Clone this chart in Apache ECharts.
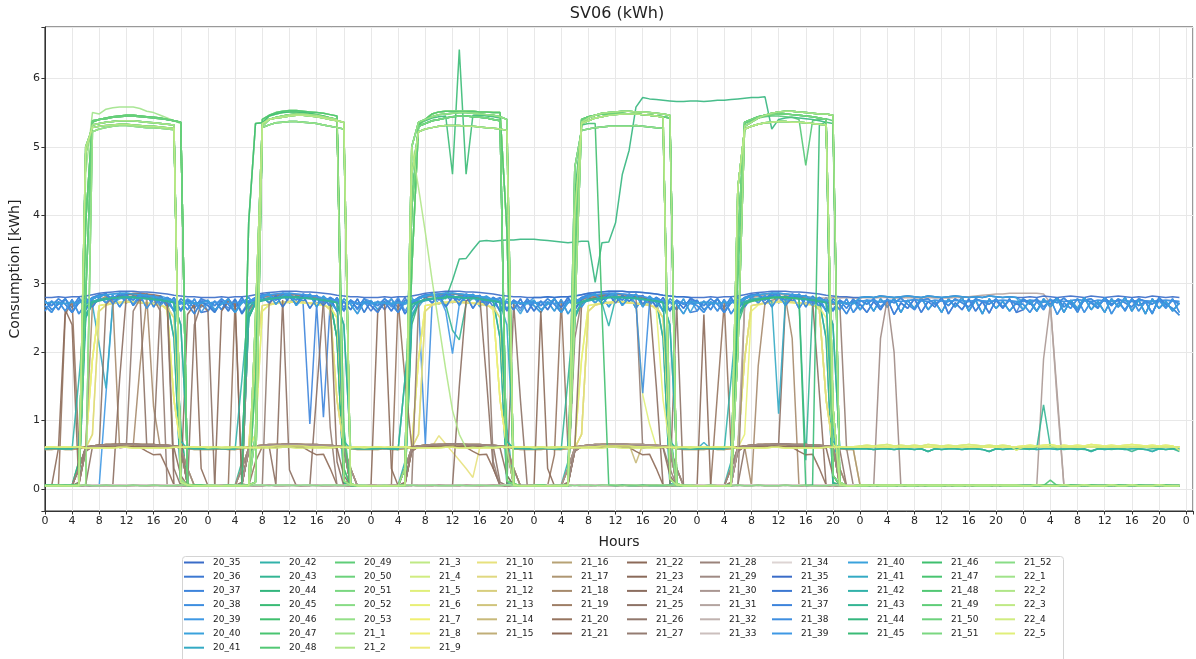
<!DOCTYPE html>
<html>
<head>
<meta charset="utf-8">
<script src="https://cdn.jsdelivr.net/npm/echarts@6/dist/echarts.min.js"></script>
<style>
  html, body { margin: 0; padding: 0; background: #ffffff; }
  #chart { width: 1196px; height: 659px; }
</style>
</head>
<body>
<div id="chart"></div>
<script>
// Hourly consumption profiles (kWh), one 24-value array per day shape.
// ---- always-on (blue) ----
const BA = [2.80,2.80,2.81,2.80,2.81,2.81, 2.82,2.84,2.86,2.87,2.88,2.89, 2.89,2.89,2.88,2.88,2.87,2.86, 2.85,2.83,2.82,2.81,2.81,2.80];
const BB = [2.68,2.58,2.74,2.60,2.77,2.56, 2.71,2.79,2.81,2.72,2.83,2.66, 2.81,2.70,2.83,2.64,2.79,2.68, 2.80,2.59,2.74,2.62,2.78,2.58];
const BC = [2.60,2.75,2.62,2.78,2.65,2.80, 2.62,2.77,2.83,2.85,2.76,2.84, 2.72,2.83,2.74,2.85,2.70,2.81, 2.66,2.80,2.60,2.76,2.64,2.78];
const BD = [2.74,2.68,2.78,2.70,2.58,2.76, 2.72,2.80,2.84,2.83,2.78,2.86, 2.82,2.76,2.85,2.80,2.83,2.72, 2.80,2.74,2.62,2.76,2.70,2.74];
const BE = [2.72,2.73,2.72,2.71,2.73,2.72, 2.75,2.78,2.82,2.84,2.85,2.86, 2.86,2.85,2.84,2.83,2.81,2.79, 2.77,2.75,2.73,2.72,2.72,2.71];
const BF = [2.76,2.62,2.70,2.78,2.58,2.72, 2.80,2.66,2.80,2.86,2.70,2.82, 2.86,2.68,2.80,2.84,2.66,2.82, 2.72,2.62,2.78,2.70,2.56,2.74];
const BW1 = [2.80,2.81,2.80,2.82,2.81,2.80, 2.81,2.82,2.81,2.80,2.82,2.81, 2.80,2.81,2.82,2.81,2.80,2.81, 2.80,2.82,2.81,2.80,2.81,2.80];
const BW2 = [2.70,2.58,2.74,2.62,2.78,2.55, 2.72,2.64,2.78,2.58,2.74,2.66, 2.80,2.56,2.72,2.62,2.78,2.60, 2.74,2.57,2.76,2.64,2.78,2.58];
const BW3 = [2.62,2.76,2.60,2.78,2.66,2.79, 2.58,2.76,2.64,2.80,2.62,2.74, 2.58,2.78,2.66,2.80,2.60,2.76, 2.56,2.78,2.64,2.74,2.60,2.72];
const BW4 = [2.76,2.70,2.78,2.66,2.76,2.72, 2.79,2.70,2.62,2.76,2.78,2.70, 2.76,2.68,2.78,2.72,2.66,2.78, 2.74,2.70,2.78,2.66,2.76,2.70];
const BW5 = [2.74,2.76,2.75,2.73,2.76,2.75, 2.74,2.75,2.77,2.75,2.74,2.76, 2.75,2.74,2.76,2.75,2.74,2.76, 2.75,2.74,2.75,2.76,2.75,2.74];
const BW6 = [2.78,2.72,2.60,2.76,2.70,2.80, 2.66,2.74,2.58,2.78,2.72,2.64, 2.80,2.70,2.76,2.60,2.78,2.68, 2.74,2.56,2.80,2.70,2.64,2.54];
const BLate = [0.05,0.05,0.05,0.05,0.05,0.05, 0.05,0.05,0.06,1.40,2.72,2.82, 2.86,2.85,2.84,2.82,2.80,2.82, 2.79,2.76,2.70,2.78,2.72,2.66];
const BTueDips = [2.72,2.60,2.76,2.64,2.78,2.58, 2.74,2.80,2.82,2.80,2.84,2.82, 2.84,2.80,2.72,0.95,2.70,1.05, 2.72,2.78,2.66,2.76,2.62,2.74];
const BWedDip8 = [2.74,2.62,2.78,2.66,2.80,2.60, 2.76,2.70,0.66,2.72,2.82,2.84, 2.80,2.82,2.84,2.80,2.78,2.82, 2.76,2.80,2.64,2.76,2.60,2.78];
const BWedDip12 = [2.70,2.72,2.71,2.69,2.72,2.70, 2.74,2.78,2.82,2.84,2.82,2.60, 1.98,2.70,2.84,2.83,2.81,2.79, 2.77,2.75,2.73,2.72,2.72,2.71];
const BThuDip16 = [2.74,2.68,2.78,2.70,2.58,2.76, 2.72,2.80,2.84,2.83,2.78,2.86, 2.82,2.76,2.85,2.70,1.40,2.72, 2.80,2.74,2.62,2.76,2.70,2.74];

// ---- daytime 2.7 load (teal) ----
const T1 = [0.05,0.05,0.05,0.05,0.05,0.06, 2.50,2.72,2.76,2.78,2.80,2.80, 2.81,2.81,2.80,2.79,2.78,2.77, 2.75,2.20,0.08,0.06,0.05,0.05];
const T1b = [0.06,0.05,0.06,0.05,0.06,0.40, 2.66,2.74,2.77,2.79,2.80,2.81, 2.81,2.80,2.80,2.79,2.78,2.77, 2.76,2.74,0.90,0.06,0.06,0.05];
const T1MonDip = [0.05,0.05,0.05,0.05,0.05,0.06, 2.50,2.70,2.10,1.47,2.72,2.78, 2.80,2.80,2.79,2.78,2.77,2.76, 2.74,2.20,0.08,0.06,0.05,0.05];
const T1WedDip = [0.05,0.05,0.05,0.05,0.05,0.06, 2.50,2.72,2.76,2.78,2.80,2.70, 2.32,2.18,2.70,2.79,2.78,2.77, 2.75,2.20,0.08,0.06,0.05,0.05];
const T1ThuDip = [0.06,0.05,0.06,0.05,0.06,0.40, 2.66,2.74,2.77,2.79,2.72,2.38, 2.78,2.80,2.80,2.79,2.78,2.77, 2.76,2.74,0.90,0.06,0.06,0.05];
const T1FriDip = [0.05,0.05,0.05,0.05,0.05,0.06, 2.50,2.72,2.76,2.78,2.80,2.80, 2.81,2.81,2.80,2.78,0.42,2.70, 2.75,2.20,0.08,0.06,0.05,0.05];
const T2 = [0.59,0.60,0.59,0.59,0.60,0.61, 2.55,2.72,2.75,2.77,2.79,2.80, 2.80,2.80,2.79,2.78,2.77,2.76, 2.74,2.72,2.40,0.60,0.59,0.59];
const T2b = [0.59,0.59,0.60,0.59,0.58,1.60, 2.70,2.74,2.77,2.78,2.79,2.80, 2.81,2.80,2.79,2.79,2.78,2.76, 2.75,2.73,0.70,0.59,0.60,0.59];
const T2FriDip = [0.59,0.68,0.59,0.59,0.60,0.61, 2.55,2.72,2.75,2.77,2.79,2.74, 1.10,2.76,2.79,2.78,2.77,2.76, 2.74,2.72,2.40,0.60,0.59,0.59];
const TW0 = [0.59,0.59,0.58,0.59,0.59,0.58, 0.59,0.59,0.58,0.59,0.55,0.59, 0.58,0.59,0.59,0.58,0.59,0.59, 0.58,0.55,0.59,0.58,0.59,0.59];
const TWSun = [0.59,0.58,0.60,1.23,0.62,0.59, 0.58,0.59,0.59,0.58,0.56,0.59, 0.59,0.58,0.59,0.59,0.55,0.59, 0.58,0.59,0.59,0.58,0.59,0.55];

// ---- standby baseline ----
const Z0 = [0.05,0.05,0.06,0.05,0.05,0.05, 0.06,0.05,0.05,0.06,0.05,0.05, 0.05,0.06,0.05,0.05,0.06,0.05, 0.05,0.05,0.06,0.05,0.05,0.05];
const Z1 = [0.06,0.06,0.05,0.06,0.06,0.06, 0.05,0.06,0.06,0.05,0.06,0.06, 0.06,0.05,0.06,0.06,0.05,0.06, 0.06,0.06,0.05,0.06,0.06,0.06];
const ZSun = [0.05,0.05,0.05,0.05,0.13,0.05, 0.05,0.06,0.05,0.05,0.06,0.05, 0.05,0.05,0.06,0.05,0.05,0.06, 0.05,0.05,0.05,0.06,0.05,0.05];

// ---- full daytime load (green), Monday..Friday ----
const GM1 = [0.05,0.05,0.05,0.05,0.05,0.06, 4.90,5.32,5.34,5.36,5.37,5.38, 5.38,5.38,5.37,5.36,5.35,5.34, 5.33,5.32,0.10,0.06,0.05,0.05];
const GM2 = [0.06,0.06,0.06,0.05,0.06,0.07, 3.90,5.36,5.40,5.42,5.44,5.45, 5.46,5.46,5.45,5.44,5.43,5.42, 5.40,5.38,5.36,0.06,0.06,0.06];
const GM3 = [0.05,0.05,0.05,0.05,0.05,0.05, 5.00,5.28,5.30,5.31,5.32,5.33, 5.33,5.32,5.31,5.30,5.30,5.29, 5.28,5.27,0.10,0.06,0.05,0.05];
const GM4 = [0.05,0.05,0.05,0.05,0.05,0.06, 4.60,5.50,5.48,5.55,5.57,5.58, 5.58,5.58,5.56,5.52,5.50,5.46, 5.42,5.38,5.34,0.08,0.05,0.05];
const GM5 = [0.05,0.05,0.05,0.05,0.05,0.05, 0.06,5.22,5.26,5.28,5.30,5.31, 5.31,5.30,5.29,5.28,5.28,5.27, 5.26,5.25,0.15,0.06,0.05,0.05];
const GM6 = [0.05,0.05,0.05,0.06,0.05,0.05, 2.80,5.38,5.40,5.41,5.43,5.44, 5.45,5.45,5.44,5.43,5.42,5.41, 5.40,5.38,5.36,0.05,0.05,0.05];
const GT1 = [0.05,0.05,0.05,0.05,0.05,0.05, 0.06,0.10,5.30,5.40,5.43,5.45, 5.47,5.48,5.48,5.47,5.46,5.44, 5.42,5.40,0.12,0.06,0.05,0.05];
const GT2 = [0.05,0.05,0.05,0.05,0.05,0.05, 0.05,2.50,5.34,5.40,5.42,5.43, 5.45,5.46,5.46,5.45,5.44,5.42, 5.40,5.38,5.36,0.08,0.05,0.05];
const GT3 = [0.05,0.05,0.05,0.05,0.05,0.06, 3.90,5.34,5.35,5.45,5.48,5.50, 5.51,5.51,5.50,5.49,5.47,5.45, 5.42,5.40,0.30,0.05,0.05,0.05];
const GT4 = [0.05,0.05,0.05,0.05,0.05,0.05, 0.05,0.80,5.28,5.32,5.35,5.36, 5.37,5.37,5.36,5.35,5.34,5.32, 5.30,5.28,5.26,0.06,0.05,0.05];
const GT5 = [0.05,0.05,0.05,0.06,0.05,0.05, 0.06,1.60,5.40,5.46,5.50,5.52, 5.53,5.53,5.52,5.51,5.50,5.49, 5.47,5.45,0.80,0.05,0.05,0.05];
const GW1 = [0.05,0.05,0.05,0.05,0.05,0.06, 4.10,5.30,5.34,5.38,5.40,5.42, 5.44,5.45,5.45,5.44,5.43,5.42, 5.40,5.38,0.12,0.07,0.05,0.05];
const GW2 = [0.05,0.05,0.05,0.05,0.05,0.30, 5.00,5.36,5.40,5.44,5.47,5.48, 5.49,5.50,5.50,5.49,5.48,5.47, 5.46,5.44,5.40,0.05,0.05,0.05];
const GW3 = [0.05,0.05,0.05,0.05,0.05,0.05, 3.20,5.32,5.40,5.48,5.51,5.52, 5.52,5.52,5.52,5.52,5.51,5.51, 5.50,5.50,3.80,0.08,0.05,0.05];
const GW4 = [0.05,0.05,0.05,0.05,0.05,0.05, 4.60,5.22,5.26,5.28,5.30,5.31, 5.31,5.31,5.30,5.30,5.29,5.28, 5.27,5.26,5.24,0.06,0.05,0.05];
const GWSpike = [0.05,0.05,0.05,0.05,0.05,0.05, 4.20,5.34,5.38,5.42,5.44,5.45, 4.60,6.42,4.60,5.46,5.46,5.45, 5.44,5.42,0.20,0.06,0.05,0.05];
const GWDecline = [0.05,0.05,0.05,0.05,0.05,0.06, 5.00,4.40,3.75,3.05,2.40,1.75, 1.15,0.80,0.60,0.61,0.60,0.62, 0.61,0.62,0.60,0.06,0.05,0.05];
const GH1 = [0.05,0.05,0.05,0.05,0.05,0.06, 4.00,5.34,5.38,5.42,5.44,5.46, 5.47,5.48,5.48,5.48,5.47,5.46, 5.45,5.43,0.15,0.06,0.05,0.05];
const GH2 = [0.05,0.05,0.05,0.05,0.05,0.05, 2.50,5.36,5.42,5.46,5.49,5.50, 5.51,5.52,5.52,5.51,5.51,5.50, 5.49,5.48,5.46,0.08,0.05,0.05];
const GH3 = [0.05,0.05,0.05,0.05,0.05,0.05, 4.70,5.24,5.26,5.28,5.29,5.30, 5.30,5.30,5.30,5.31,5.30,5.29, 5.28,5.27,0.80,0.06,0.05,0.05];
const GHDrop = [0.05,0.05,0.05,0.05,0.05,0.06, 4.30,5.32,5.34,5.34,2.60,0.06, 0.05,0.06,0.05,0.05,0.06,0.05, 0.05,0.05,0.06,0.05,0.05,0.05];
const GH4 = [0.05,0.06,0.05,0.05,0.05,0.05, 3.40,5.40,5.44,5.46,5.48,5.48, 5.49,5.49,5.48,5.48,5.47,5.46, 5.45,5.44,5.42,0.06,0.05,0.05];
const GF1 = [0.05,0.05,0.05,0.05,0.05,0.05, 3.60,5.36,5.40,5.44,5.46,5.47, 5.48,5.48,5.47,5.46,5.45,5.44, 5.42,5.40,0.20,0.07,0.05,0.05];
const GF2 = [0.05,0.05,0.05,0.05,0.05,0.06, 2.00,5.30,5.36,5.42,5.46,5.49, 5.51,5.52,5.52,5.51,5.50,5.49, 5.48,5.48,5.46,0.10,0.05,0.05];
const GF3 = [0.05,0.05,0.05,0.05,0.05,0.05, 4.40,5.26,5.30,5.33,5.35,5.36, 5.37,5.37,5.36,5.36,5.35,5.34, 5.33,5.32,1.20,0.06,0.05,0.05];
const GFDip = [0.05,0.05,0.05,0.05,0.05,0.05, 3.00,5.34,5.38,5.42,5.44,5.45, 5.45,5.44,5.43,5.40,4.73,5.38, 5.40,5.41,5.38,0.06,0.05,0.05];
const GFLate = [0.05,0.05,0.05,0.05,0.05,0.06, 2.40,2.70,2.74,2.76,2.78,2.79, 2.80,2.80,2.79,2.78,0.05,0.06, 5.32,5.36,5.34,0.06,0.05,0.05];
// unit left running from Wednesday noon to Friday
const SWed = [0.05,0.05,0.05,0.05,0.05,0.06, 2.40,2.72,2.76,2.78,2.80,2.78, 3.05,3.36,3.37,3.50,3.62,3.63, 3.62,3.63,3.64,3.64,3.65,3.65];
const SThu = [3.65,3.64,3.63,3.62,3.61,3.60, 3.61,3.62,3.62,3.02,3.60,3.61, 3.89,4.60,4.95,5.58,5.72,5.70, 5.69,5.68,5.67,5.66,5.66,5.67];
const SFri = [5.67,5.66,5.67,5.68,5.68,5.69, 5.70,5.71,5.72,5.72,5.73,5.26, 5.40,5.42,5.43,5.42,5.41,5.40, 5.38,5.36,0.10,0.06,0.05,0.05];

// ---- night 0.6 load (yellow) ----
const Y1 = [0.60,0.61,0.60,0.60,0.61,0.60, 0.62,1.90,2.68,2.70,2.72,2.73, 2.74,2.74,2.73,2.72,2.71,2.70, 2.62,1.30,0.62,0.61,0.60,0.60];
const Y1b = [0.61,0.60,0.60,0.61,0.60,0.61, 0.60,0.80,2.60,2.69,2.71,2.72, 2.73,2.73,2.72,2.71,2.70,2.68, 2.66,2.50,0.64,0.60,0.61,0.60];
const Y1Thu = [0.60,0.61,0.60,0.60,0.61,0.60, 0.62,1.90,2.68,2.70,2.72,2.73, 2.74,2.74,2.73,2.72,1.38,0.95, 0.62,0.61,0.60,0.61,0.60,0.60];
const Y0 = [0.60,0.61,0.60,0.60,0.61,0.60, 0.61,0.61,0.62,0.62,0.63,0.63, 0.63,0.63,0.63,0.62,0.62,0.62, 0.61,0.61,0.61,0.60,0.61,0.60];
const Y0b = [0.61,0.62,0.61,0.62,0.61,0.62, 0.60,0.60,0.60,0.60,0.60,0.61, 0.61,0.60,0.60,0.60,0.60,0.60, 0.60,0.61,0.61,0.62,0.61,0.62];
const Y0Wed = [0.60,0.61,0.60,0.60,0.61,0.60, 0.61,0.61,0.62,0.62,0.78,0.66, 0.54,0.42,0.30,0.17,0.60,0.62, 0.61,0.61,0.61,0.60,0.61,0.60];
const YW = [0.61,0.62,0.62,0.61,0.62,0.61, 0.62,0.61,0.62,0.62,0.61,0.62, 0.61,0.62,0.61,0.62,0.61,0.62, 0.61,0.62,0.61,0.62,0.61,0.62];
const YW2 = [0.63,0.64,0.63,0.64,0.65,0.63, 0.64,0.63,0.64,0.63,0.65,0.64, 0.63,0.64,0.63,0.64,0.65,0.64, 0.63,0.64,0.63,0.64,0.63,0.57];

// ---- daytime 0.65 load (khaki / brown) ----
const K0 = [0.58,0.58,0.59,0.58,0.58,0.59, 0.62,0.63,0.64,0.64,0.65,0.65, 0.65,0.65,0.65,0.64,0.64,0.64, 0.63,0.63,0.62,0.59,0.58,0.58];
const K1 = [0.05,0.05,0.05,0.05,0.05,0.30, 0.60,0.63,0.64,0.65,0.65,0.65, 0.66,0.66,0.65,0.65,0.65,0.64, 0.64,0.63,0.62,0.06,0.05,0.05];
const K1b = [0.06,0.05,0.05,0.06,0.05,0.08, 0.56,0.62,0.63,0.64,0.64,0.65, 0.65,0.65,0.64,0.64,0.64,0.63, 0.63,0.62,0.60,0.30,0.05,0.05];
const K1Thu = [0.05,0.05,0.05,0.05,0.05,0.30, 0.60,0.63,0.64,0.65,0.65,0.65, 0.66,0.66,0.65,0.38,0.65,0.64, 0.64,0.63,0.62,0.06,0.05,0.05];
const KD = [0.05,0.05,0.05,0.05,0.05,0.07, 0.55,0.62,0.62,0.62,0.61,0.61, 0.61,0.61,0.61,0.55,0.50,0.51, 0.30,0.06,0.05,0.05,0.05,0.05];
const KD2 = [0.05,0.05,0.05,0.05,0.05,0.10, 0.58,0.62,0.62,0.63,0.63,0.63, 0.62,0.62,0.62,0.62,0.62,0.61, 0.61,0.60,0.20,0.05,0.05,0.05];

// ---- intermittent 2.7 load (brown / grey) ----
const BrM1 = [0.05,0.05,0.06,2.55,2.74,0.62, 0.61,0.63,0.64,0.64,0.65,0.65, 0.65,0.65,0.64,0.64,0.64,0.63, 0.63,0.62,0.61,0.06,0.05,0.05];
const BrM2 = [0.05,0.05,0.60,2.62,2.40,0.05, 0.05,0.05,0.06,0.05,0.05,0.06, 0.05,0.05,0.06,0.05,0.05,0.06, 0.05,0.05,0.05,2.55,2.70,0.30];
const BrM3 = [0.05,0.05,0.05,0.05,0.05,0.06, 0.62,2.70,2.76,2.82,2.74,0.60, 0.62,0.63,1.80,2.80,1.20,0.60, 0.62,0.63,0.61,0.06,0.05,0.05];
const BrM4 = [0.05,0.05,0.05,0.05,0.05,0.05, 0.05,0.05,0.05,0.05,0.06,1.60, 2.84,2.86,2.86,2.85,2.84,2.82, 2.70,0.06,0.05,0.05,0.05,0.05];
const BrM5 = [0.05,0.05,0.05,0.05,0.05,0.05, 0.06,0.62,0.63,2.70,2.80,2.82, 2.84,2.84,2.82,0.62,0.63,2.72, 2.78,0.30,0.05,0.05,2.40,2.70];
const BrM6 = [0.05,0.05,0.05,0.05,0.05,0.30, 0.62,0.63,0.64,0.64,0.64,0.65, 0.65,2.60,2.78,2.80,2.78,2.60, 0.05,0.05,0.05,0.05,0.05,0.05];
const BrT1 = [0.05,0.05,2.60,2.74,2.70,0.05, 0.05,0.05,0.05,0.06,0.05,0.05, 0.06,0.05,0.05,0.06,0.05,0.05, 0.05,0.06,0.05,0.05,0.05,0.05];
const BrT2 = [0.05,0.05,0.05,0.05,2.75,0.08, 0.05,0.40,0.62,0.63,0.64,0.64, 0.65,0.65,0.64,0.64,0.63,0.63, 0.62,0.62,0.61,0.06,0.05,0.05];
const BrT3 = [0.05,0.05,0.05,0.05,0.05,0.06, 0.60,0.62,0.63,0.63,0.06,2.76, 0.28,0.05,0.05,0.05,1.40,2.76, 2.74,0.40,0.05,0.05,0.05,0.05];
const BrT4 = [2.60,0.05,0.05,0.05,0.05,0.06, 0.58,0.62,0.63,0.64,0.64,0.65, 0.65,0.65,0.64,0.64,0.64,0.63, 0.63,0.62,0.61,0.06,0.05,0.05];
const BrT5 = [0.05,0.05,0.05,0.05,0.05,0.06, 0.05,0.05,0.05,2.70,2.82,2.84, 2.84,2.84,2.82,2.80,2.80,2.74, 0.90,0.05,0.05,0.05,0.05,0.05];
const BrT6 = [0.05,0.05,0.05,0.05,0.05,0.05, 2.60,2.74,2.80,2.82,2.84,2.85, 2.85,2.84,2.83,2.82,2.80,2.78, 2.76,2.74,0.60,0.05,0.05,0.05];
const BrW1 = [0.05,2.60,2.72,0.30,0.05,0.05, 0.06,0.05,0.05,0.05,0.06,0.05, 0.05,0.05,0.06,0.05,0.05,0.05, 0.06,0.05,0.05,0.05,0.05,0.05];
const BrW2 = [0.05,0.05,0.05,0.05,2.75,1.60, 0.62,0.63,0.64,0.64,0.65,0.65, 0.65,0.65,0.64,0.64,0.64,0.63, 0.63,0.62,0.61,0.06,0.05,0.05];
const BrW3 = [0.05,0.05,0.05,0.05,0.05,0.05, 0.06,0.05,0.05,0.06,0.05,0.05, 0.05,1.50,2.75,2.80,2.82,1.60, 0.30,0.05,0.05,0.05,0.05,0.05];
const BrW4 = [0.05,0.05,0.05,0.05,0.05,0.06, 0.60,0.62,0.63,0.64,0.64,0.65, 0.65,0.65,0.64,0.64,0.64,0.63, 0.62,0.10,0.05,2.72,1.30,0.05];
const BrW5 = [0.05,0.05,0.05,0.05,0.05,0.05, 0.05,2.70,2.80,2.82,2.84,2.85, 2.85,2.84,2.83,2.82,2.80,2.78, 0.40,0.05,0.05,0.05,0.05,0.05];
const BrH1 = [0.05,2.60,0.30,0.05,0.05,0.05, 0.06,0.05,0.05,0.06,0.05,0.05, 0.05,0.06,0.05,0.05,0.05,0.06, 0.05,0.05,0.05,0.05,0.05,0.05];
const BrH2 = [0.05,0.05,0.05,0.50,2.75,0.60, 0.62,0.63,0.64,0.64,0.65,0.65, 0.65,0.65,0.64,0.64,0.64,0.63, 0.63,0.62,0.61,0.06,0.05,0.05];
const BrH3 = [0.05,0.05,0.05,0.05,0.05,0.06, 0.60,2.70,2.78,2.80,2.82,2.84, 2.84,2.84,2.83,2.82,2.80,2.76, 1.50,0.05,0.05,0.05,0.05,0.05];
const BrH4 = [0.05,0.05,0.05,0.05,0.05,0.05, 0.06,0.05,0.05,0.05,0.06,0.05, 0.05,0.05,0.06,0.05,0.05,0.05, 0.06,0.05,0.06,2.70,0.05,0.05];
const BrH5 = [0.05,0.05,0.05,0.05,0.05,0.06, 2.20,2.76,2.80,2.82,2.84,2.85, 2.85,2.84,2.83,2.82,0.60,0.62, 0.62,0.61,0.30,0.05,0.05,0.05];
const BrF1 = [0.05,2.55,0.05,0.05,0.05,0.05, 0.06,0.05,0.05,0.06,0.05,0.05, 0.05,0.06,0.05,0.05,0.05,0.06, 0.05,0.05,0.05,0.05,0.05,0.05];
const BrF2 = [0.05,0.05,0.05,1.40,2.72,0.60, 0.62,0.63,0.64,0.64,0.65,0.65, 0.65,0.65,0.64,0.64,0.64,0.63, 0.63,0.62,0.61,0.06,0.05,0.05];
const BrF3 = [0.05,0.05,0.05,0.05,0.05,0.06, 0.60,0.62,0.05,1.80,2.72,2.76, 2.78,2.80,2.20,0.05,0.05,0.05, 0.05,0.05,0.05,0.05,0.05,0.05];
const BrF4 = [0.05,0.05,0.05,0.05,0.05,0.06, 0.60,0.62,0.63,0.64,0.64,0.65, 0.65,2.70,2.78,2.80,2.80,2.76, 1.40,0.05,0.05,0.05,0.05,0.05];
const BrF5 = [0.05,0.05,0.05,0.05,0.05,0.06, 0.05,2.70,2.80,2.82,2.84,2.85, 2.85,2.84,2.83,2.82,2.80,2.78, 2.76,2.74,2.70,2.72,0.60,0.05];
const BrF6 = [0.05,0.05,0.05,0.05,0.05,0.05, 0.06,0.60,0.62,0.63,0.64,0.64, 0.65,0.65,0.64,0.64,0.64,0.63, 0.63,0.62,0.62,0.58,0.05,0.05];
const BrF7 = [0.05,0.05,0.05,0.05,0.05,0.05, 0.60,2.70,2.80,2.82,2.84,2.85, 2.85,2.84,2.83,2.82,2.81,2.80, 2.79,2.79,2.80,2.79,2.80,2.79];
const BrSat = [0.05,0.05,0.05,2.20,2.78,2.00, 0.05,0.05,0.06,0.05,0.05,0.05, 0.06,0.05,0.05,0.05,0.06,0.05, 0.05,0.05,0.05,0.06,0.05,0.05];
const BrG = [2.79,2.80,2.79,2.80,2.80,2.79, 2.79,2.80,2.79,2.79,2.80,2.79, 2.79,2.79,2.80,2.80,2.81,2.82, 2.83,2.84,2.85,2.85,2.86,2.86];
const BrSunA = [2.86,2.86,2.86,2.85,2.72,1.30, 0.05,0.05,0.05,0.06,0.05,0.05, 0.05,0.06,0.05,0.05,0.05,0.06, 0.05,0.05,0.05,0.05,0.06,0.05];
const BrSunB = [0.05,0.05,0.05,1.90,2.70,1.40, 0.05,0.05,0.06,0.05,0.05,0.05, 0.06,0.05,0.05,0.05,0.06,0.05, 0.05,0.05,0.06,0.05,0.05,0.05];

// Week labels (year_week) and the Monday..Sunday profile of each week.
const weekLabels = [
  "20_35","20_36","20_37","20_38","20_39","20_40","20_41","20_42","20_43","20_44",
  "20_45","20_46","20_47","20_48","20_49","20_50","20_51","20_52","20_53",
  "21_1","21_2","21_3","21_4","21_5","21_6","21_7","21_8","21_9","21_10",
  "21_11","21_12","21_13","21_14","21_15","21_16","21_17","21_18","21_19","21_20",
  "21_21","21_22","21_23","21_24","21_25","21_26","21_27","21_28","21_29","21_30",
  "21_31","21_32","21_33","21_34","21_35","21_36","21_37","21_38","21_39","21_40",
  "21_41","21_42","21_43","21_44","21_45","21_46","21_47","21_48","21_49","21_50",
  "21_51","21_52","22_1","22_2","22_3","22_4","22_5"
];
const weekDays = [
  [BB, BC, BB, BD, BB, BW2, BW3],                 // 20_35
  [BC, BD, BC, BB, BC, BW3, BW4],                 // 20_36
  [BE, BTueDips, BE, BE, BE, BW5, BW5],           // 20_37
  [BC, BC, BWedDip8, BC, BC, BW3, BW3],           // 20_38
  [BLate, BE, BE, BA, BE, BW1, BW5],              // 20_39
  [BF, BB, BF, BB, BF, BW3, BW6],                 // 20_40
  [T1MonDip, T1, T1, T1, T1, Z0, Z0],             // 20_41
  [T1b, T1, T1b, T1ThuDip, T1b, Z1, Z0],          // 20_42
  [T1, T1b, T1WedDip, T1, T1FriDip, Z0, Z0],      // 20_43
  [T1b, T1, SWed, SThu, SFri, Z0, Z1],            // 20_44
  [GM1, GT1, GWSpike, GH1, GF1, Z0, Z0],          // 20_45
  [GM2, GT2, GW2, GH2, GF2, Z0, Z1],              // 20_46
  [GM5, GT4, GW4, GH3, GF3, Z1, Z0],              // 20_47
  [GM6, GT2, GW1, GH1, GFDip, Z0, Z0],            // 20_48
  [GM1, GT3, GW3, GH2, GF3, Z1, Z0],              // 20_49
  [GM5, GT1, GW2, GH3, GF1, Z0, Z1],              // 20_50
  [GM2, GT5, GW3, GH1, GF2, Z1, Z0],              // 20_51
  [GM3, GT1, GW2, GH4, GF3, Z0, Z0],              // 20_52
  [Z1, Z0, Z1, Z0, Z1, Z0, Z1],                   // 20_53 (holiday week)
  [GM4, GT5, GW3, GH4, GF2, Z0, Z0],              // 21_1
  [GM6, GT3, GW1, GH1, GF1, Z0, Z1],              // 21_2
  [GM2, GT2, GW3, GH4, GF3, Z0, Z0],              // 21_3
  [Y1, Y1b, Y1, Y1b, Y1, YW, YW2],                // 21_4
  [Y1, Y1, Y1b, Y1Thu, Y1, YW, YW],               // 21_5
  [Y1b, Y1b, Y1, Y1, Y1b, YW2, YW],               // 21_6
  [Y0, Y0, Y0, Y0, Y0, YW, YW],                   // 21_7
  [Y1, Y1, Y1, Y1b, Y1, YW, YW2],                 // 21_8
  [Y0b, Y0b, Y0, Y0b, Y0b, YW2, YW],              // 21_9
  [Y0, Y0, Y0Wed, Y0, Y0, YW, YW],                // 21_10
  [Y1b, Y1, Y1b, Y1b, Y1, YW, YW],                // 21_11
  [K1, K1b, K1, K1, K1b, Z0, Z0],                 // 21_12
  [K0, K0, K0, K0, K0, Z0, Z0],                   // 21_13
  [K1, K1b, K1, K1Thu, K1, Z0, Z0],               // 21_14
  [K1b, K1, K1b, K1b, K1, Z0, Z0],                // 21_15
  [K1b, K1, K1b, K1, K1b, Z0, Z0],                // 21_16
  [K0, K0, K0, K0, K0, Z0, Z0],                   // 21_17
  [BrM3, K1, K1b, K1, BrF3, Z0, Z0],              // 21_18
  [K1, K1b, K1, K1b, K1, Z0, Z0],                 // 21_19
  [BrM1, BrT2, BrW2, BrH2, BrF2, Z0, Z0],         // 21_20
  [KD, KD, KD, KD, KD, Z0, Z0],                   // 21_21
  [BrM2, BrT1, BrW1, BrH1, BrF1, Z0, Z0],         // 21_22
  [KD2, KD2, KD2, KD2, KD2, Z0, Z0],              // 21_23
  [BrM4, BrT3, BrW3, BrH3, BrF4, Z0, Z0],         // 21_24
  [BrM5, BrT4, BrW4, BrH4, BrF6, Z0, Z0],         // 21_25
  [K1, K1b, K1, K1b, K1, Z0, Z0],                 // 21_26
  [BrM6, BrT5, BrW5, BrH5, BrF5, Z0, Z0],         // 21_27
  [K1, BrT6, K1b, K1, K1b, Z0, Z0],               // 21_28
  [K1b, K1, K1, K1b, K1, BrSat, Z0],              // 21_29
  [Z0, K1b, Z0, K1, Z0, Z0, BrSunB],              // 21_30
  [Z0, Z0, Z0, Z0, BrF7, BrG, BrSunA],            // 21_31
  [Z1, Z0, Z1, Z0, Z1, Z0, Z1],                   // 21_32
  [Z0, Z1, Z0, Z1, Z0, Z1, Z0],                   // 21_33
  [Z1, Z1, Z0, Z0, Z1, Z1, Z1],                   // 21_34
  [BA, BA, BA, BA, BA, BW1, BW1],                 // 21_35
  [BD, BB, BD, BC, BD, BW4, BW2],                 // 21_36
  [BF, BF, BB, BF, BF, BW2, BW6],                 // 21_37
  [BD, BD, BD, BThuDip16, BD, BW4, BW4],          // 21_38
  [BB, BE, BWedDip12, BE, BB, BW5, BW2],          // 21_39
  [BE, BF, BE, BF, BE, BW1, BW3],                 // 21_40
  [T2, T2, T2, T2, T2FriDip, TW0, TW0],           // 21_41
  [T2b, T2b, T2b, T2, T2b, TW0, TW0],             // 21_42
  [T2, T2, T2b, T2b, T2, TW0, TWSun],             // 21_43
  [GM3, GT4, GW4, GH3, GF3, Z0, Z0],              // 21_44
  [GM6, GT3, GW1, GH4, GFLate, Z1, Z0],           // 21_45
  [GM1, GT1, GW1, GHDrop, GF1, Z0, Z0],           // 21_46
  [GM2, GT5, GW3, GH2, GF2, Z0, ZSun],            // 21_47
  [GM3, GT1, GW2, GH4, GF1, Z0, Z1],              // 21_48
  [GM2, GT2, GW1, GH1, GF2, Z0, Z0],              // 21_49
  [GM6, GT4, GW4, GH4, GF3, Z0, Z0],              // 21_50
  [GM1, GT2, GW1, GH2, GF1, Z0, Z0],              // 21_51
  [Z0, Z1, Z0, Z1, Z0, Z1, Z0],                   // 21_52 (holiday week)
  [GM5, GT4, GW2, GH3, GF3, Z0, Z0],              // 22_1
  [GM1, GT1, GWDecline, GH2, GF2, Z0, Z0],        // 22_2
  [GM3, GT2, GW4, GH1, GF3, Z1, Z0],              // 22_3
  [Y0b, Y0b, Y0b, Y0b, Y0b, YW2, YW],             // 22_4
  [Y0b, Y0, Y0b, Y0, Y0b, YW, YW2]                // 22_5
];
const hourTicks = [0, 4, 8, 12, 16, 20];

// Colour by week-of-year position (terrain-like ramp over the 53-week cycle).
const rampIdx = [0, 2, 4, 5, 6, 7, 8, 9, 11, 13, 15, 17, 19, 21, 23, 25, 27, 29, 31, 33, 35, 37, 39, 41, 43, 45, 47, 49, 51, 52];
const rampCol = ['#3a6cc8','#3d84dc','#3e98e4','#3aa2dc','#34aac4','#32b2aa','#34b594','#34b67e','#3fbf6e',
  '#52c874','#6cd27c','#88dc86','#a0e38a','#bfe985','#e0ef7a','#f0ef70','#eeea7a','#e0d880','#d0c47c',
  '#c0ae78','#ae9672','#9e7e66','#8e6a58','#8a6a5a','#8d7266','#947c72','#9f8a84','#b4a4a0','#cbbfbd','#ddd4d3'];
function hexToRgb(h) { return [1, 3, 5].map(i => parseInt(h.substr(i, 2), 16)); }
function rampColor(i) {
  for (let k = 0; k < rampIdx.length - 1; k++) {
    if (i >= rampIdx[k] && i <= rampIdx[k + 1]) {
      const t = (i - rampIdx[k]) / (rampIdx[k + 1] - rampIdx[k]);
      const a = hexToRgb(rampCol[k]), b = hexToRgb(rampCol[k + 1]);
      const c = a.map((v, j) => Math.round(v + (b[j] - v) * t));
      return 'rgb(' + c.join(',') + ')';
    }
  }
  return rampCol[rampCol.length - 1];
}
function weekSlot(label) {
  const [yy, ww] = label.split('_').map(Number);
  return yy === 20 ? ww - 35 : (ww + 18) % 53;
}

const FONT = 'DejaVu Sans';
const series = weekLabels.map((label, k) => {
  const values = [].concat(...weekDays[k]);
  const col = rampColor(weekSlot(label));
  return {
    type: 'line',
    name: label,
    data: values.map((v, h) => [h, v]),
    showSymbol: false,
    symbol: 'none',
    lineStyle: { width: 1.5, color: col, opacity: 0.9 },
    itemStyle: { color: col },
    emphasis: { disabled: true },
    animation: false
  };
});

// Legend laid out column by column (12 columns).
const colCounts = [7, 7, 7, 7, 6, 6, 6, 6, 6, 6, 6, 6];
const colX = [184, 260, 335, 410, 477, 552, 627, 700, 772, 848, 922, 995];
const legends = [];
let pos = 0;
colCounts.forEach((n, c) => {
  legends.push({
    orient: 'vertical',
    left: colX[c],
    top: 558,
    height: 120,
    padding: 0,
    itemWidth: 20,
    itemHeight: 2,
    itemGap: 5.2,
    icon: 'rect',
    selectedMode: false,
    textStyle: { fontSize: 9, color: '#222', fontFamily: FONT, padding: [0, 0, 0, 4] },
    data: weekLabels.slice(pos, pos + n)
  });
  pos += n;
});

const chart = echarts.init(document.getElementById('chart'), null, { renderer: 'canvas' });
chart.setOption({
  animation: false,
  backgroundColor: '#ffffff',
  title: {
    text: 'SV06 (kWh)',
    left: 617,
    top: 6,
    padding: 0,
    textAlign: 'center',
    textStyle: { fontSize: 16, fontWeight: 'normal', color: '#222', fontFamily: FONT }
  },
  legend: legends,
  graphic: [{
    type: 'rect',
    shape: { x: 182.5, y: 556.5, width: 881, height: 110, r: 3 },
    style: { fill: '#ffffff', stroke: '#d4d4d4', lineWidth: 1 },
    z: -10
  }],
  grid: {
    left: 43, right: 3, top: 27, bottom: 148,
    show: true, borderColor: '#333', borderWidth: 1, backgroundColor: '#ffffff'
  },
  xAxis: {
    type: 'value',
    min: 0, max: 169, interval: 4,
    name: 'Hours', nameLocation: 'middle', nameGap: 24,
    nameTextStyle: { fontSize: 14, color: '#222', fontFamily: FONT },
    axisLine: { show: true, onZero: false, lineStyle: { color: '#333', width: 1 } },
    axisTick: { show: true, length: 3.5, lineStyle: { color: '#333' } },
    axisLabel: {
      fontSize: 11, color: '#262626', fontFamily: FONT, margin: 5,
      formatter: v => (v % 4 === 0 && hourTicks.includes(v % 24)) ? String(v % 24) : ''
    },
    splitLine: { show: true, lineStyle: { color: '#e8e8e8', width: 1 } }
  },
  yAxis: {
    type: 'value',
    min: -0.32, max: 6.75, splitNumber: 7,
    name: 'Consumption [kWh]', nameLocation: 'middle', nameGap: 22, nameRotate: 90,
    nameTextStyle: { fontSize: 14, color: '#222', fontFamily: FONT },
    axisLine: { show: true, lineStyle: { color: '#333', width: 1 } },
    axisTick: { show: true, length: 3.5, lineStyle: { color: '#333' } },
    axisLabel: {
      fontSize: 11, color: '#262626', fontFamily: FONT, margin: 5,
      formatter: v => Math.abs(v - Math.round(v)) < 1e-9 ? String(Math.round(v)) : ''
    },
    splitLine: { show: true, lineStyle: { color: '#e8e8e8', width: 1 } }
  },
  series: series
});
</script>
</body>
</html>
